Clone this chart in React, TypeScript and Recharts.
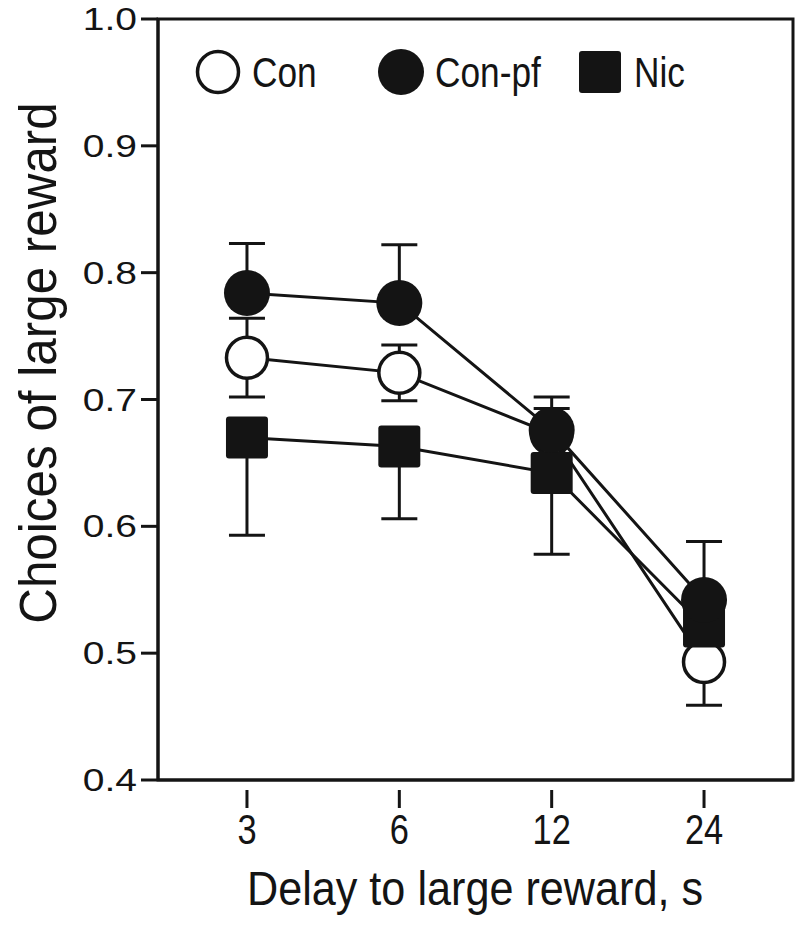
import { LineChart, Line, XAxis, YAxis, ErrorBar, ReferenceArea } from 'recharts'

const delays = ['3', '6', '12', '24']
const conMean = [0.733, 0.721, 0.673, 0.493]
const conErr = [0.031, 0.022, 0.02, 0.034]
const conPfMean = [0.784, 0.776, 0.676, 0.542]
const conPfErrUp = [0.039, 0.046, 0.026, 0.046]
const nicMean = [0.67, 0.663, 0.642, 0.521]
const nicErrDown = [0.077, 0.057, 0.064, 0.015]
const yTicks = [0.4, 0.5, 0.6, 0.7, 0.8, 0.9, 1.0]

const INK = '#141414'
const SANS = "'Liberation Sans', Arial, sans-serif"

const data = delays.map((d, i) => ({
  idx: i,
  delay: d,
  con: conMean[i],
  conErr: conErr[i],
  conPf: conPfMean[i],
  conPfErr: [0, conPfErrUp[i]],
  nic: nicMean[i],
  nicErr: [nicErrDown[i], 0],
}))

const OpenDot = (p: any) => <circle key={p.index} cx={p.cx} cy={p.cy} r={20.5} fill="#fff" stroke={INK} strokeWidth={3.5} />
const FilledDot = (p: any) => <circle key={p.index} cx={p.cx} cy={p.cy} r={23} fill={INK} />
const SquareDot = (p: any) => <rect key={p.index} x={p.cx - 21} y={p.cy - 21} width={42} height={42} rx={3} fill={INK} />

// squeezed text, the original uses a condensed face
const Narrow = ({ x, y, size, sx = 0.82, anchor = 'start', rotate = 0, children }: any) => (
  <text
    transform={`translate(${x},${y}) rotate(${rotate}) scale(${sx},1)`}
    textAnchor={anchor}
    fontSize={size}
    fontFamily={SANS}
    fill={INK}
  >
    {children}
  </text>
)

const XTick = ({ x, y, payload }: any) => (
  <g>
    <line x1={x} y1={y + 10} x2={x} y2={y + 28} stroke={INK} strokeWidth={3} />
    <Narrow x={x} y={y + 64} size={42} anchor="middle">{delays[payload.value]}</Narrow>
  </g>
)

const YTick = ({ x, y, payload }: any) => (
  <text transform={`translate(${x},${y + 11}) scale(1.22,1)`} textAnchor="end" fontSize={32} fontFamily={SANS} fill={INK}>
    {payload.value.toFixed(1)}
  </text>
)

const LegendBox = () => (
  <svg width={800} height={120} style={{ position: 'absolute', left: 0, top: 0 }}>
    <circle cx={218} cy={72} r={20.5} fill="#fff" stroke={INK} strokeWidth={3.5} />
    <Narrow x={252} y={87} size={43}>Con</Narrow>
    <circle cx={401} cy={72} r={23} fill={INK} />
    <Narrow x={435} y={87} size={43}>Con-pf</Narrow>
    <rect x={579} y={51} width={42} height={42} rx={3} fill={INK} />
    <Narrow x={634} y={87} size={43}>Nic</Narrow>
  </svg>
)

const Titles = () => (
  <svg width={800} height={927} style={{ position: 'absolute', left: 0, top: 0, pointerEvents: 'none' }}>
    <Narrow x={475} y={905} size={48} sx={0.9} anchor="middle">Delay to large reward, s</Narrow>
    <Narrow x={56} y={363} size={52} sx={0.95} anchor="middle" rotate={-90}>Choices of large reward</Narrow>
  </svg>
)

export default function App() {
  return (
    <div style={{ position: 'absolute', left: 0, top: 0, width: 800, height: 927 }}>
      <LineChart width={800} height={927} data={data} margin={{ top: 19, right: 7, bottom: 0, left: 0 }}>
        <ReferenceArea x1={-0.584} x2={3.584} y1={0.4} y2={1.0} fill="none" stroke={INK} strokeWidth={3} ifOverflow="visible" />
        <XAxis
          dataKey="idx"
          type="number"
          domain={[-0.584, 3.584]}
          ticks={[0, 1, 2, 3]}
          allowDataOverflow
          height={147}
          tickLine={false}
          tickSize={0}
          tickMargin={0}
          axisLine={{ stroke: INK, strokeWidth: 3 }}
          tick={<XTick />}
        />
        <YAxis
          type="number"
          domain={[0.4, 1.0]}
          ticks={yTicks}
          width={158}
          tickSize={17}
          tickMargin={4}
          tickLine={{ stroke: INK, strokeWidth: 3 }}
          axisLine={{ stroke: INK, strokeWidth: 3 }}
          tick={<YTick />}
        />
        <Line dataKey="con" stroke={INK} strokeWidth={3} isAnimationActive={false} dot={OpenDot} activeDot={false}>
          <ErrorBar dataKey="conErr" width={18} stroke={INK} strokeWidth={3} />
        </Line>
        <Line dataKey="nic" stroke={INK} strokeWidth={3} isAnimationActive={false} dot={SquareDot} activeDot={false}>
          <ErrorBar dataKey="nicErr" width={18} stroke={INK} strokeWidth={3} />
        </Line>
        <Line dataKey="conPf" stroke={INK} strokeWidth={3} isAnimationActive={false} dot={FilledDot} activeDot={false}>
          <ErrorBar dataKey="conPfErr" width={18} stroke={INK} strokeWidth={3} />
        </Line>
      </LineChart>
      <LegendBox />
      <Titles />
    </div>
  )
}
